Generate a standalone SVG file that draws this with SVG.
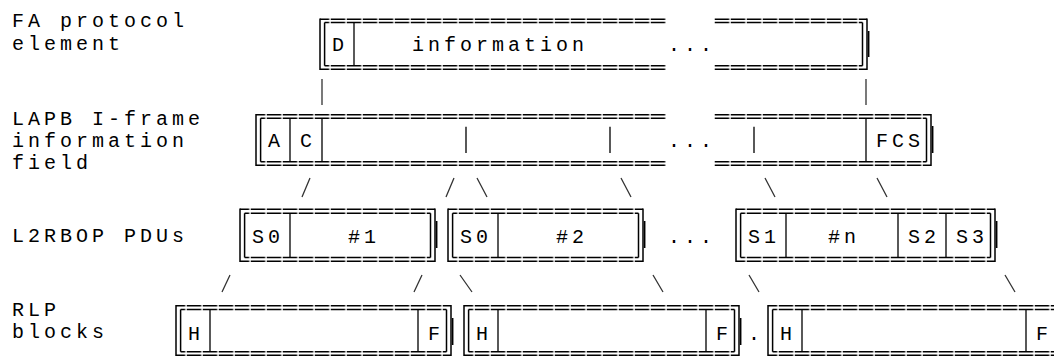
<svg xmlns="http://www.w3.org/2000/svg" width="1054" height="358" viewBox="0 0 1054 358">
<defs>
<pattern id="eq" patternUnits="userSpaceOnUse" x="10.75" y="0" width="16" height="358">
<rect x="0" y="0" width="14.5" height="358" fill="#000"/>
</pattern>
</defs>
<style>
.t{font-family:"Liberation Mono","DejaVu Sans Mono",monospace;font-size:20px;letter-spacing:4px;fill:#000}
.h{fill:none;stroke:url(#eq);stroke-width:1.5}
.v{fill:none;stroke:#000;stroke-width:1.5}
.s{fill:none;stroke:#000;stroke-width:1.3}
.c{fill:none;stroke:#333;stroke-width:1.3}
</style>
<rect width="1054" height="358" fill="#fff"/>
<g id="labels">
<text class="t" x="12" y="27">FA protocol</text>
<text class="t" x="12" y="50">element</text>
<text class="t" x="12" y="125">LAPB I-frame</text>
<text class="t" x="12" y="147">information</text>
<text class="t" x="12" y="169">field</text>
<text class="t" x="12" y="242">L2RBOP PDUs</text>
<text class="t" x="12" y="316">RLP</text>
<text class="t" x="12" y="338">blocks</text>
</g>
<g id="fa-element">
<path class="h" d="M320 19.2H666M714 19.2H867M324.6 22.6H666M714 22.6H862.5M324.6 65.8H666M714 65.8H862.5M320 69.2H666M714 69.2H867"/>
<path class="v" d="M320 18.45V69.95M324.6 22.6V65.8M862.5 22.6V65.8M867 18.45V69.95M868.7 31V57"/>
<path class="s" d="M354 22.6V65.8"/>
<text class="t" x="332" y="51">D</text>
<text class="t" x="412" y="51">information</text>
<text class="t" x="668" y="51">...</text>
</g>
<g id="lapb-frame">
<path class="h" d="M256 114.8H666M714 114.8H931M260.6 118.2H666M714 118.2H926.5M260.6 161.8H666M714 161.8H926.5M256 165.2H666M714 165.2H931"/>
<path class="v" d="M256 114.05V165.95M260.6 118.2V161.8M926.5 118.2V161.8M931 114.05V165.95M932.7 126V153"/>
<path class="s" d="M290 118.2V161.8M322 118.2V161.8M866 118.2V161.8M466 126.7V153M610 126.7V153M754 126.7V153"/>
<text class="t" x="268" y="147">A</text>
<text class="t" x="300" y="147">C</text>
<text class="t" x="668" y="147">...</text>
<text class="t" x="876" y="147">FCS</text>
</g>
<g id="pdu-1">
<path class="h" d="M240 209.2H435M244.6 213.2H430.5M244.6 257.5H430.5M240 261.2H435"/>
<path class="v" d="M240 208.45V261.95M244.6 213.2V257.5M430.5 213.2V257.5M435 208.45V261.95M436.7 221V248"/>
<path class="s" d="M290 213.2V257.5"/>
<text class="t" x="252" y="243">S0</text>
<text class="t" x="348" y="243">#1</text>
</g>
<g id="pdu-2">
<path class="h" d="M448 209.2H643M452.6 213.2H638.5M452.6 257.5H638.5M448 261.2H643"/>
<path class="v" d="M448 208.45V261.95M452.6 213.2V257.5M638.5 213.2V257.5M643 208.45V261.95M644.7 221V248"/>
<path class="s" d="M498 213.2V257.5"/>
<text class="t" x="460" y="243">S0</text>
<text class="t" x="556" y="243">#2</text>
</g>
<text class="t" x="668" y="243">...</text>
<g id="pdu-n">
<path class="h" d="M736 209.2H995M740.6 213.2H990.5M740.6 257.5H990.5M736 261.2H995"/>
<path class="v" d="M736 208.45V261.95M740.6 213.2V257.5M990.5 213.2V257.5M995 208.45V261.95M996.7 221V248"/>
<path class="s" d="M786 213.2V257.5M898 213.2V257.5M946 213.2V257.5"/>
<text class="t" x="748" y="243">S1</text>
<text class="t" x="828" y="243">#n</text>
<text class="t" x="908" y="243">S2</text>
<text class="t" x="956" y="243">S3</text>
</g>
<g id="rlp-1">
<path class="h" d="M176 305.8H451M180.6 309.6H446.5M180.6 351.8H446.5M176 355.2H451"/>
<path class="v" d="M176 305.05V355.95M180.6 309.6V351.8M446.5 309.6V351.8M451 305.05V355.95M452.7 318V345"/>
<path class="s" d="M210 309.6V351.8M418 309.6V351.8"/>
<text class="t" x="188" y="340">H</text>
<text class="t" x="428" y="340">F</text>
</g>
<g id="rlp-2">
<path class="h" d="M464 305.8H739M468.6 309.6H734.5M468.6 351.8H734.5M464 355.2H739"/>
<path class="v" d="M464 305.05V355.95M468.6 309.6V351.8M734.5 309.6V351.8M739 305.05V355.95M740.7 318V345"/>
<path class="s" d="M498 309.6V351.8M706 309.6V351.8"/>
<text class="t" x="476" y="340">H</text>
<text class="t" x="716" y="340">F</text>
</g>
<text class="t" x="748" y="340">.</text>
<g id="rlp-3">
<path class="h" d="M768 305.8H1059M772.6 309.6H1054.5M772.6 351.8H1054.5M768 355.2H1059"/>
<path class="v" d="M768 305.05V355.95M772.6 309.6V351.8"/>
<path class="s" d="M802 309.6V351.8M1026 309.6V351.8"/>
<text class="t" x="780" y="340">H</text>
<text class="t" x="1036" y="340">F</text>
</g>
<g id="connectors">
<path class="c" d="M322 79V105M866 79V105"/>
<path class="c" d="M310 178L302 197M454 178L446 197M477 178L487 197M621 178L631 197M765 178L775 197M877 178L887 197"/>
<path class="c" d="M230 275L222 292M422 275L414 292M460 275L472 292M653 275L663 292M749 275L759 292M1005 275L1015 292"/>
</g>
</svg>
